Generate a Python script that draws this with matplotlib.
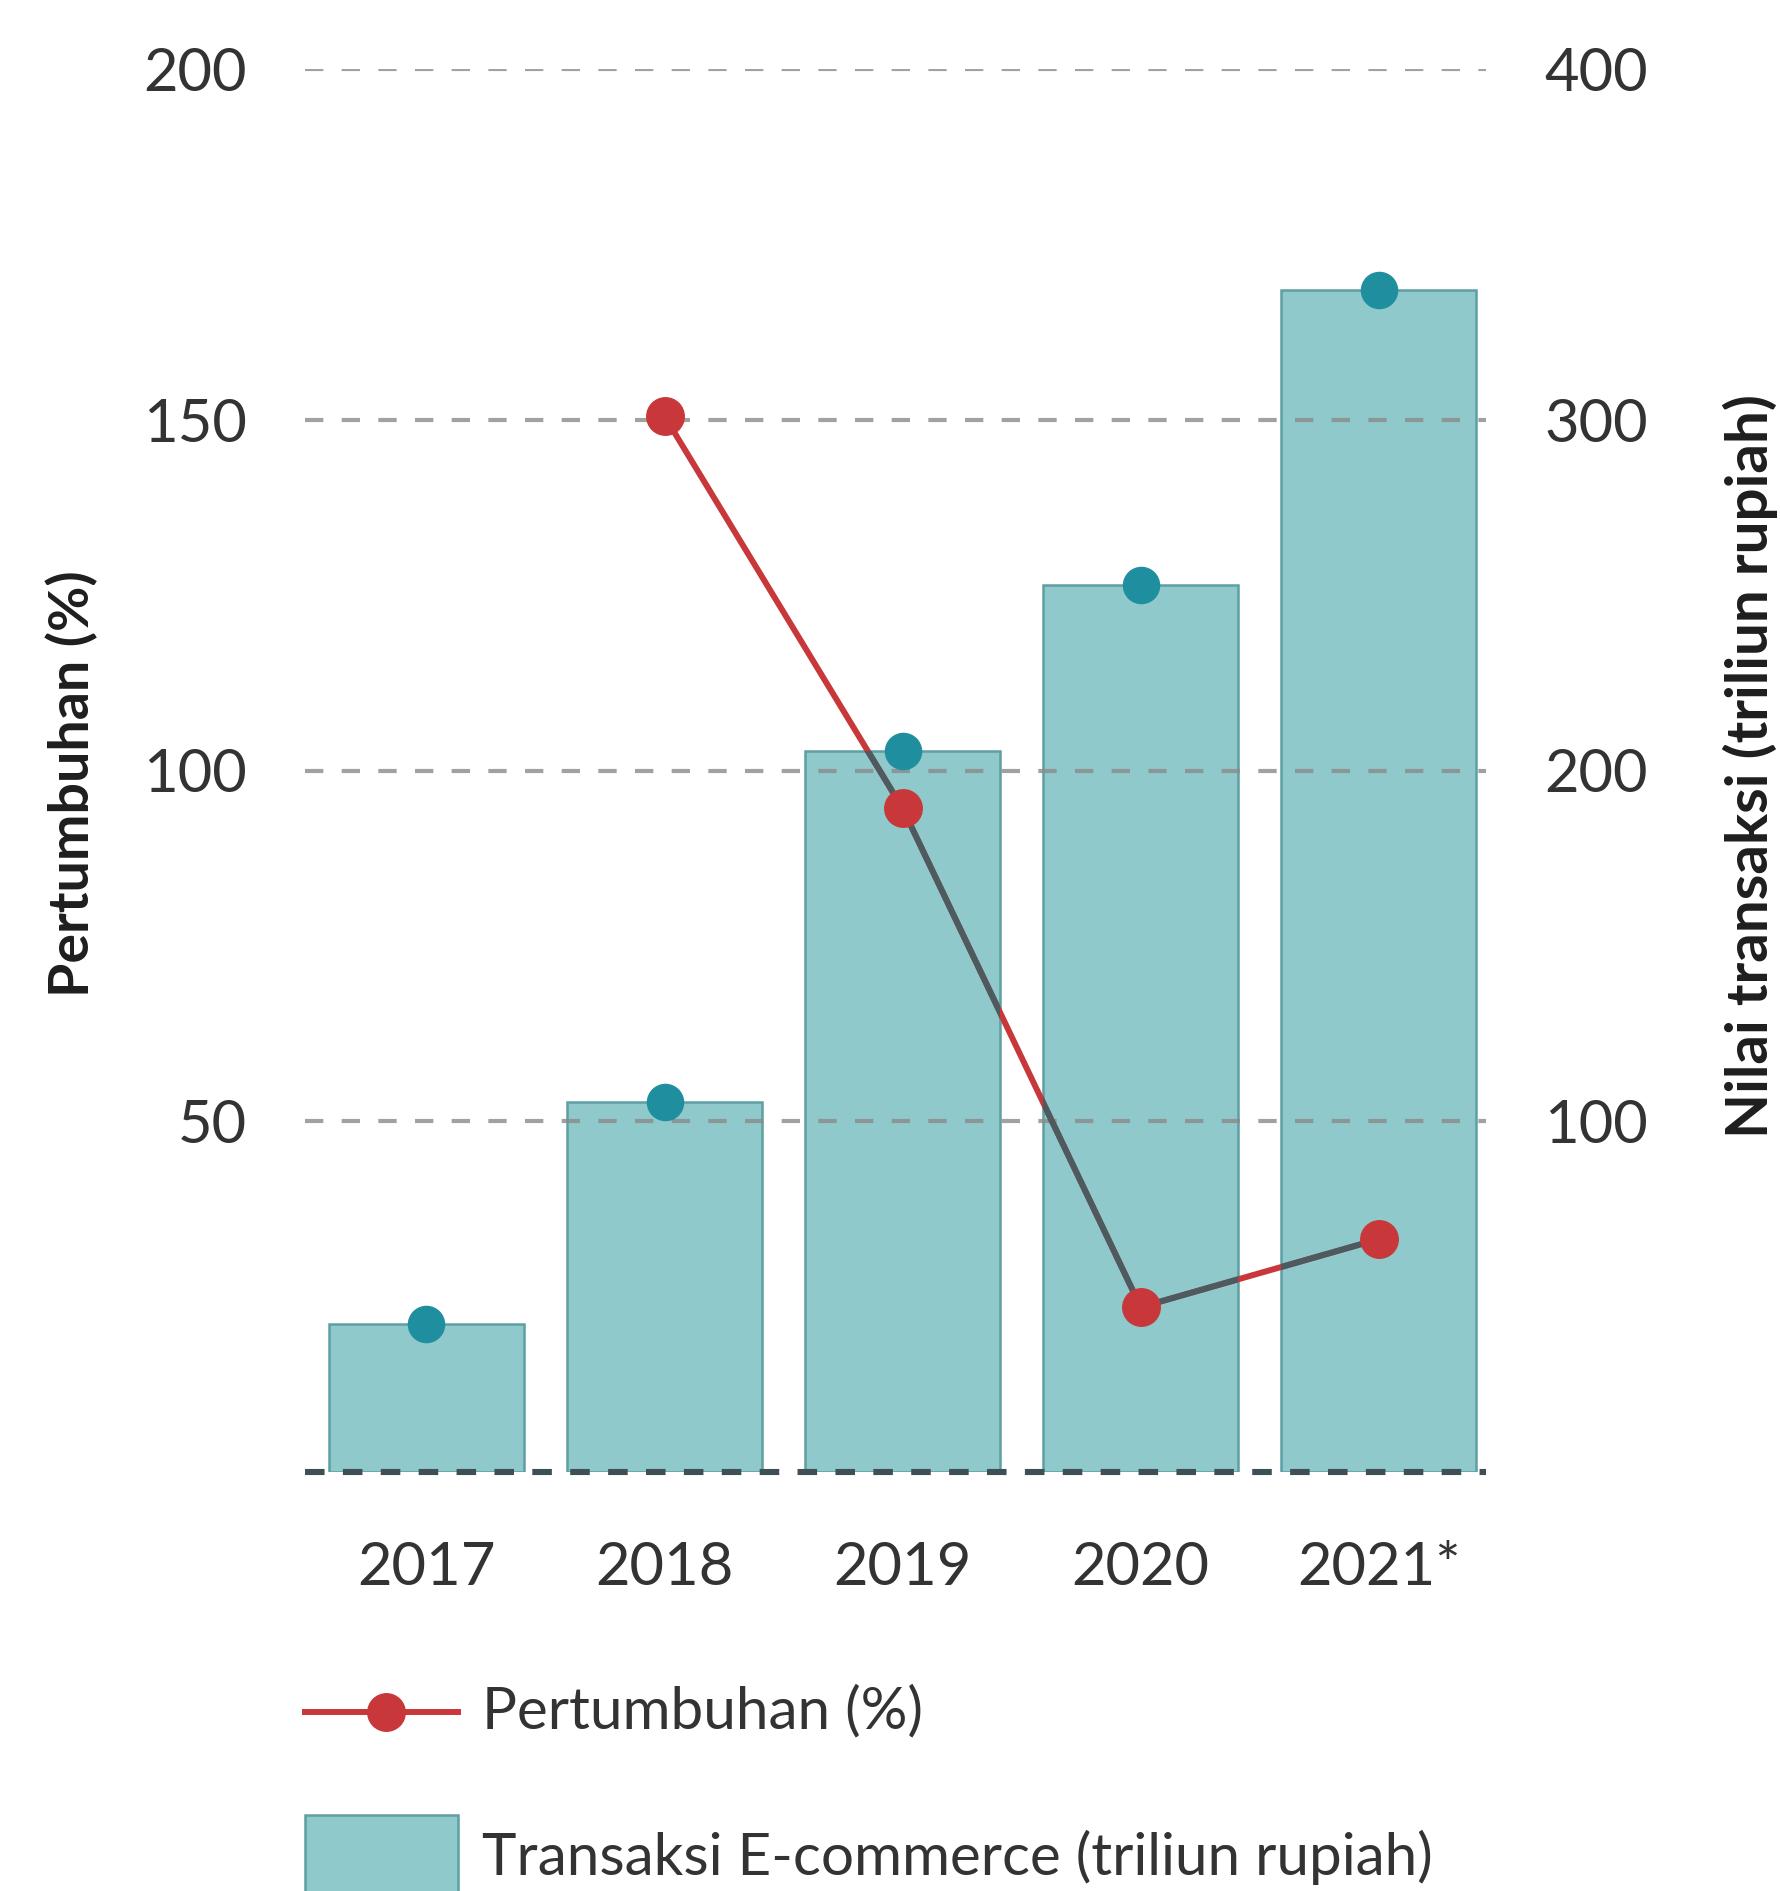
import matplotlib
matplotlib.use("Agg")
import matplotlib.pyplot as plt
from matplotlib.path import Path
from matplotlib.lines import Line2D
from matplotlib.patches import Rectangle
import numpy as np

plt.rcParams['font.family'] = ['Lato', 'DejaVu Sans']

years = ["2017", "2018", "2019", "2020", "2021*"]
transaksi = [42.2, 105.6, 205.5, 253.0, 337.0]       # triliun rupiah (right axis)
growth_years = ["2018", "2019", "2020", "2021*"]
pertumbuhan = [150.5, 94.6, 23.5, 33.2]              # % (left axis)
left_ticks = [50, 100, 150, 200]
right_ticks = [100, 200, 300, 400]

W, H = 1781, 1891
fig = plt.figure(figsize=(W / 100, H / 100), dpi=100)
fig.patch.set_facecolor("white")

left, right = 305 / W, 1486 / W
bottom, top = 1 - 1472 / H, 1 - 69 / H
ax = fig.add_axes([left, bottom, right - left, top - bottom])   # bars (right values)
ax2 = ax.twinx()                                                 # growth (left values)

x = np.arange(len(years))
xg = np.array([years.index(y) for y in growth_years])

BAR = "#8fc9cb"
BAR_EDGE = "#5d9fa2"
TEAL = "#1f8f9f"
RED = "#c8383b"
GRAYLINE = "#4c5b60"
TXT = "#333333"

bars = ax.bar(x, transaksi, width=0.82, color=BAR, edgecolor=BAR_EDGE, linewidth=1.8, zorder=2)
ax.set_xlim(-0.51, 4.45)
ax.set_ylim(0, 400)
ax2.set_ylim(0, 200)

# grid lines over bars
for v in right_ticks:
    ax.axhline(v, color="#8a8a8a", alpha=0.8, lw=3.0, ls=(0, (4.4, 4.4)), zorder=3)
ax.axhline(0, color="#3e5055", lw=4.4, ls=(0, (3.2, 3.0)), zorder=4, clip_on=False)

# teal markers at bar tops
ax.plot(x, transaksi, ls="none", marker="o", ms=26, color=TEAL, zorder=5, clip_on=False)

# growth line
ax2.plot(xg, pertumbuhan, color=RED, lw=4.3, zorder=2, solid_capstyle="round")
gl, = ax2.plot(xg, pertumbuhan, color=GRAYLINE, lw=4.3, zorder=3)
verts, codes = [], []
for b in bars:
    x0, y0, w, h = b.get_x(), b.get_y(), b.get_width(), b.get_height()
    verts += [(x0, y0), (x0 + w, y0), (x0 + w, y0 + h), (x0, y0 + h), (x0, y0)]
    codes += [Path.MOVETO, Path.LINETO, Path.LINETO, Path.LINETO, Path.CLOSEPOLY]
gl.set_clip_path(Path(verts, codes), ax.transData)
ax2.plot(xg, pertumbuhan, ls="none", marker="o", ms=27, color=RED, zorder=4, clip_on=False)

# axes styling
for a in (ax, ax2):
    for s in a.spines.values():
        s.set_visible(False)
    a.set_facecolor("none")
ax.set_xticks(x)
ax.set_xticklabels(years)
ax.tick_params(axis="x", length=0, pad=50, labelsize=43, labelcolor=TXT)
ax.yaxis.tick_right()
ax.set_yticks(right_ticks)
ax.tick_params(axis="y", length=0, pad=42, labelsize=43, labelcolor=TXT)
ax2.yaxis.tick_left()
ax2.set_yticks(left_ticks)
ax2.tick_params(axis="y", length=0, pad=42, labelsize=43, labelcolor=TXT)

fig.text(72 / W, 1 - 784 / H, "Pertumbuhan (%)", rotation=90, ha="center", va="center",
         fontsize=40, color="#1e1e1e", fontweight="bold")
fig.text(1750 / W, 1 - 766 / H, "Nilai transaksi (triliun rupiah)", rotation=90, ha="center",
         va="center", fontsize=42, color="#1e1e1e", fontweight="bold")

# legend (manual, in figure pixels)
T = fig.transFigure
def fx(px): return px / W
def fy(py): return 1 - py / H
fig.add_artist(Line2D([fx(305), fx(458)], [fy(1712), fy(1712)], color=RED, lw=4.3, transform=T))
fig.add_artist(Line2D([fx(386)], [fy(1712)], marker="o", ms=27, color=RED, transform=T))
fig.text(fx(482), fy(1712), "Pertumbuhan (%)", ha="left", va="center", fontsize=42, color=TXT)
fig.add_artist(Rectangle((fx(305), fy(1900)), fx(458) - fx(305), fy(1815) - fy(1900),
                         facecolor=BAR, edgecolor=BAR_EDGE, lw=1.8, transform=T))
fig.text(fx(482), fy(1857), "Transaksi E-commerce (triliun rupiah)", ha="left", va="center",
         fontsize=42, color=TXT)

fig.savefig("out.png", dpi=100, facecolor="white")
